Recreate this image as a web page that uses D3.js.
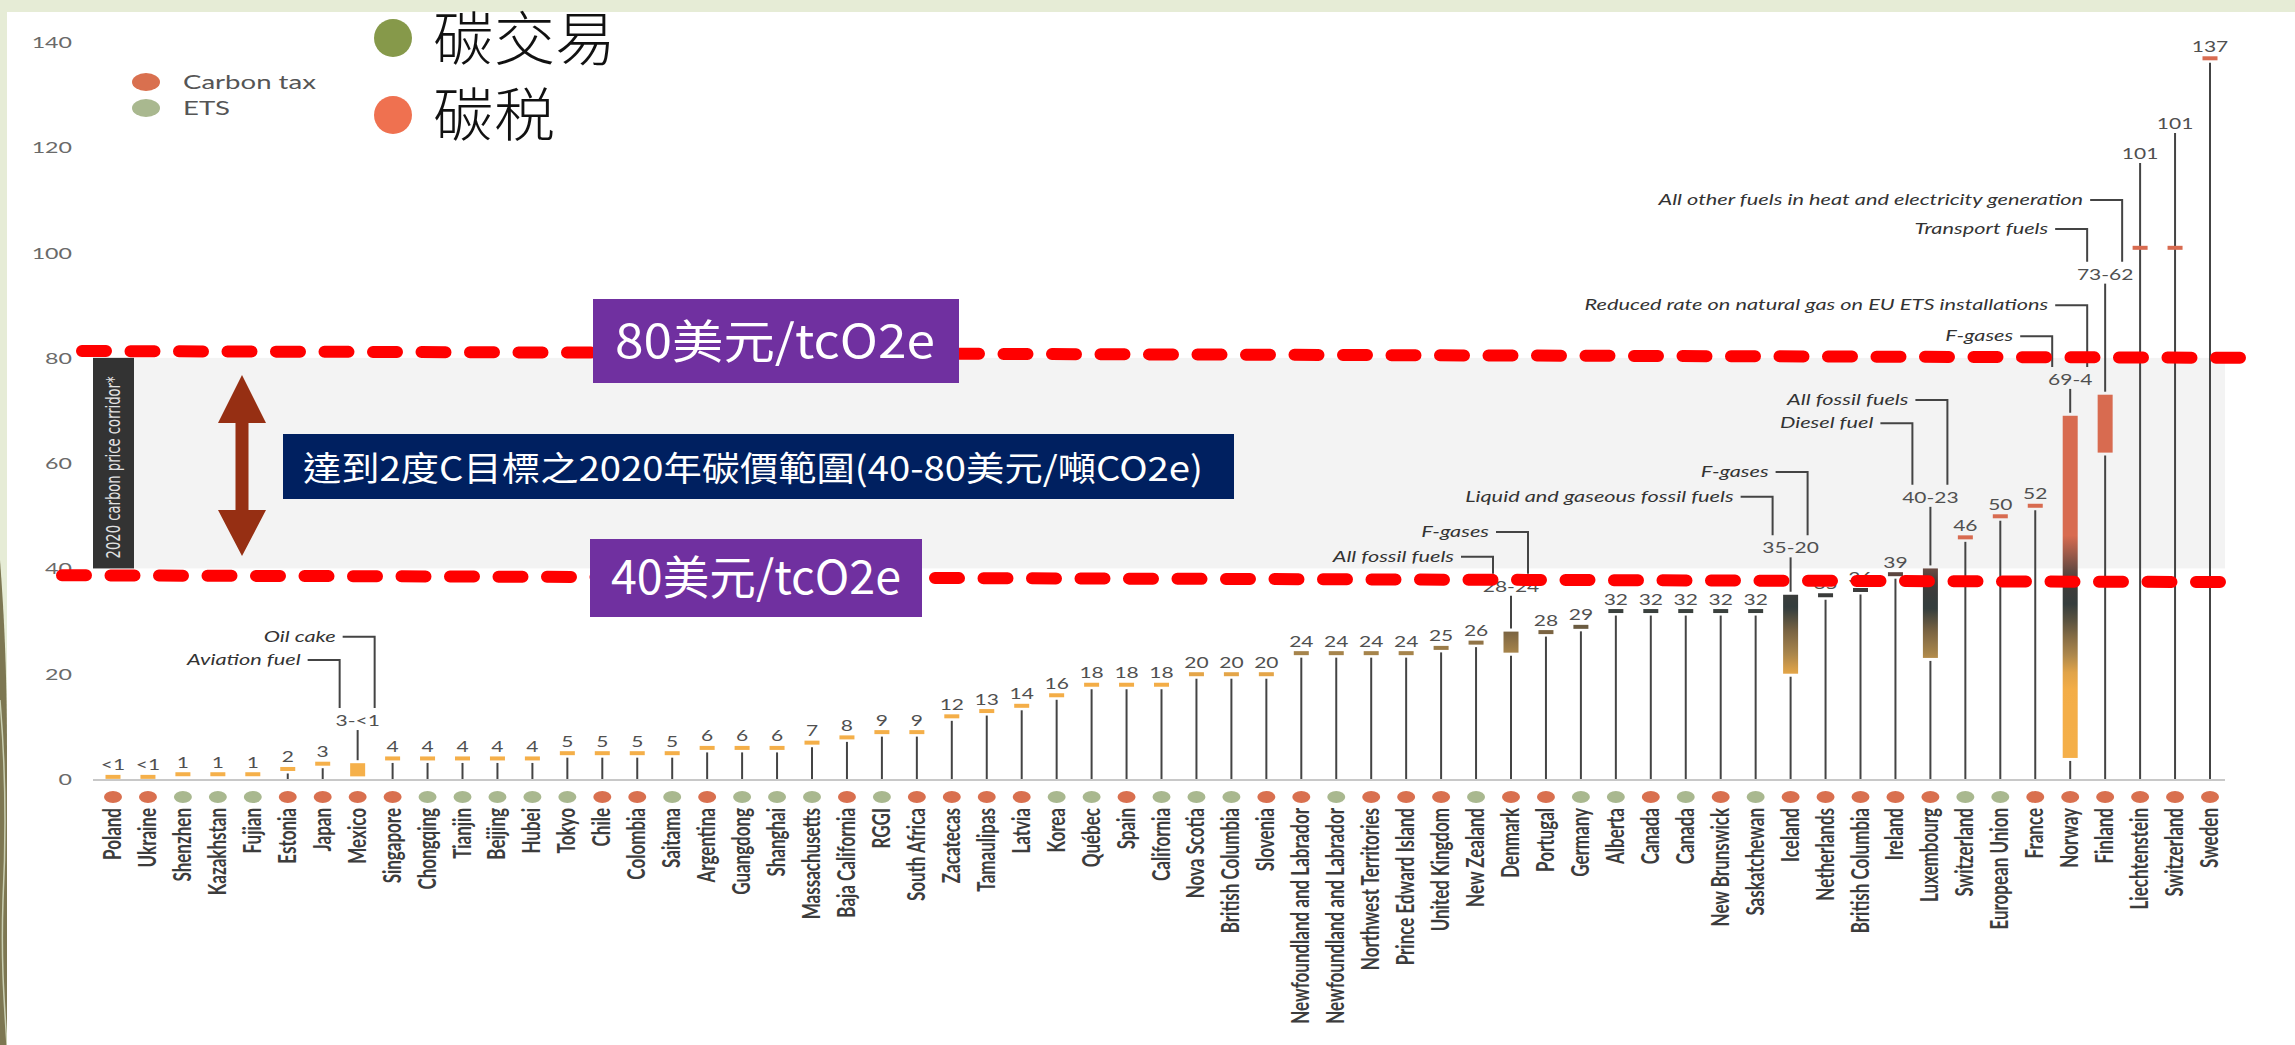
<!DOCTYPE html>
<html>
<head>
<meta charset="utf-8">
<script src="https://cdn.jsdelivr.net/npm/d3@7"></script>
<style>
  html, body { margin: 0; padding: 0; background: #e6ecd6; }
  svg { display: block; }
</style>
</head>
<body>
<svg id="chart" width="2295" height="1045"></svg>
<script>
// ---- data ----
const places = ['Poland', 'Ukraine', 'Shenzhen', 'Kazakhstan', 'Fujian', 'Estonia', 'Japan', 'Mexico',
  'Singapore', 'Chongqing', 'Tianjin', 'Beijing', 'Hubei', 'Tokyo', 'Chile', 'Colombia', 'Saitama',
  'Argentina', 'Guangdong', 'Shanghai', 'Massachusetts', 'Baja California', 'RGGI', 'South Africa',
  'Zacatecas', 'Tamaulipas', 'Latvia', 'Korea', 'Québec', 'Spain', 'California', 'Nova Scotia',
  'British Columbia', 'Slovenia', 'Newfoundland and Labrador', 'Newfoundland and Labrador',
  'Northwest Territories', 'Prince Edward Island', 'United Kingdom', 'New Zealand', 'Denmark',
  'Portugal', 'Germany', 'Alberta', 'Canada', 'Canada', 'New Brunswick', 'Saskatchewan', 'Iceland',
  'Netherlands', 'British Columbia', 'Ireland', 'Luxembourg', 'Switzerland', 'European Union',
  'France', 'Norway', 'Finland', 'Liechtenstein', 'Switzerland', 'Sweden'];

const scheme = ['tax', 'tax', 'ets', 'ets', 'ets', 'tax', 'tax', 'tax',
  'tax', 'ets', 'ets', 'ets', 'ets', 'ets', 'tax', 'tax', 'ets',
  'tax', 'ets', 'ets', 'ets', 'tax', 'ets', 'tax',
  'tax', 'tax', 'tax', 'ets', 'ets', 'tax', 'ets', 'ets',
  'ets', 'tax', 'tax', 'ets',
  'tax', 'tax', 'tax', 'ets', 'tax',
  'tax', 'ets', 'ets', 'tax', 'ets', 'tax', 'ets', 'tax',
  'tax', 'tax', 'tax', 'tax', 'ets', 'ets',
  'tax', 'tax', 'tax', 'tax', 'tax', 'tax'];

// "<1" drawn at 0.5
const priceHigh = [0.5, 0.5, 1, 1, 1, 2, 3, 3,
  4, 4, 4, 4, 4, 5, 5, 5, 5,
  6, 6, 6, 7, 8, 9, 9,
  12, 13, 14, 16, 18, 18, 18, 20,
  20, 20, 24, 24,
  24, 24, 25, 26, 28,
  28, 29, 32, 32, 32, 32, 32, 35,
  35, 36, 39, 40, 46, 50,
  52, 69, 73, 101, 101, 137];

const priceLow = [null, null, null, null, null, null, null, 0.5,
  null, null, null, null, null, null, null, null, null,
  null, null, null, null, null, null, null,
  null, null, null, null, null, null, null, null,
  null, null, null, null,
  null, null, null, null, 24,
  null, null, null, null, null, null, null, 20,
  null, null, null, 23, null, null,
  null, 4, 62, null, null, null];

const yTicks = [0, 20, 40, 60, 80, 100, 120, 140];

// notes on the ranged prices, lower note first
const noteText = [
  ['Aviation fuel', 'Oil cake'],
  ['All fossil fuels', 'F-gases'],
  ['Liquid and gaseous fossil fuels', 'F-gases'],
  ['Diesel fuel', 'All fossil fuels'],
  ['F-gases', 'Reduced rate on natural gas on EU ETS installations'],
  ['Transport fuels', 'All other fuels in heat and electricity generation']
];

// ---- layout ----
const rangeLabelAt = [11.2, 36.7, 44, 53.6, 76, 96];          // label centre, in $ units
const noteLevel = [[22.6, 27], [42.2, 46.9], [53.6, 58.3], [67.6, 72], [84.1, 90], [104.5, 110]];
const liftedLabelAt = {58: 118.9, 59: 124.6};
const FONT = 'Lato, "Noto Sans", sans-serif';
const CJK = '"Noto Sans CJK TC", "Noto Sans CJK SC", sans-serif';

const svg = d3.select('#chart');
const x = d3.scalePoint().domain(d3.range(places.length)).range([113, 2210]);
const y = d3.scaleLinear().domain([0, 140]).range([779, 42]);

const dotColor = {tax: '#d9704f', ets: '#a9b88f'};
const priceColor = d3.scaleLinear()
  .domain([0, 19, 24, 28, 32.5, 37, 41, 46, 140])
  .range(['#f5b04a', '#f3ad47', '#a6844b', '#7b6442', '#333d3d', '#3f3c3a', '#7a5046', '#d86b50', '#d86b50'])
  .interpolate(d3.interpolateRgb);

// stretched text, the source picture is wider than tall
function stretched (g, tx, ty, sx, txt) {
  return g.append('text')
    .attr('transform', 'translate(' + tx + ',' + ty + ') scale(' + sx + ',1)')
    .text(txt);
}

// ---- slide background ----
svg.append('rect').attr('width', 2295).attr('height', 1045).attr('fill', '#e6ecd6');
svg.append('path')
  .attr('d', 'M0,560 C6,640 7,700 7,760 L7,1045 L0,1045 Z')
  .attr('fill', '#7d7752');
svg.append('path')
  .attr('d', 'M0,700 C5,760 7,820 3,900 C1,960 4,1000 7,1045')
  .attr('fill', 'none').attr('stroke', '#c9cfb2').attr('stroke-width', 1.5);
svg.append('rect').attr('x', 7).attr('y', 12).attr('width', 2288).attr('height', 1033).attr('fill', '#ffffff');

// ---- corridor band ----
svg.append('rect')
  .attr('x', 93).attr('y', y(80))
  .attr('width', 2225 - 93).attr('height', y(40) - y(80))
  .attr('fill', '#f3f3f3');
svg.append('rect')
  .attr('x', 93).attr('y', y(80))
  .attr('width', 41).attr('height', y(40) - y(80))
  .attr('fill', '#333333');
svg.append('text')
  .attr('transform', 'translate(120,' + (y(40) - 10) + ') rotate(-90)')
  .attr('font-family', '"Liberation Sans Narrow", "DejaVu Sans Condensed", sans-serif')
  .attr('font-size', 20)
  .attr('fill', '#e2e2e2')
  .attr('textLength', 182)
  .attr('lengthAdjust', 'spacingAndGlyphs')
  .text('2020 carbon price corridor*');

// ---- y axis labels ----
const axisG = svg.append('g')
  .attr('font-family', FONT).attr('font-size', 16).attr('fill', '#6a6a6a')
  .attr('text-anchor', 'end');
yTicks.forEach(t => stretched(axisG, 72, y(t) + 6, 1.45, t));

// ---- baseline ----
svg.append('line')
  .attr('x1', 93).attr('x2', 2225)
  .attr('y1', y(0) + 1).attr('y2', y(0) + 1)
  .attr('stroke', '#c8c8c8').attr('stroke-width', 2);

// ---- in-chart legend ----
const legG = svg.append('g').attr('font-family', FONT).attr('font-size', 19).attr('fill', '#555');
[['tax', 'Carbon tax'], ['ets', 'ETS']].forEach((d, k) => {
  legG.append('ellipse').attr('cx', 146).attr('cy', 82 + k * 26).attr('rx', 14).attr('ry', 9)
    .attr('fill', dotColor[d[0]]);
  stretched(legG, 183, 89 + k * 26, 1.45, d[1]);
});

// ---- stems, markers, boxes ----
const items = places.map((p, i) => ({i, p, kind: scheme[i], hi: priceHigh[i], lo: priceLow[i]}));
const ranged = items.filter(d => d.lo !== null);
const defs = svg.append('defs');
ranged.forEach(d => {
  const g = defs.append('linearGradient').attr('id', 'grad' + d.i)
    .attr('x1', 0).attr('y1', 1).attr('x2', 0).attr('y2', 0);
  d3.range(0, 1.0001, 0.05).forEach(t => {
    g.append('stop').attr('offset', t).attr('stop-color', priceColor(d.lo + t * (d.hi - d.lo)));
  });
});

const markG = svg.append('g');
const labelG = svg.append('g')
  .attr('font-family', FONT).attr('font-size', 15).attr('fill', '#505050')
  .attr('text-anchor', 'middle');

items.forEach(d => {
  const cx = x(d.i);
  const stem = (y1, y2) => {
    if (y1 - y2 > 2) {
      markG.append('line').attr('x1', cx).attr('x2', cx).attr('y1', y1).attr('y2', y2)
        .attr('stroke', '#444').attr('stroke-width', 2);
    }
  };
  if (d.lo === null) {
    const lift = liftedLabelAt[d.i];
    if (lift !== undefined) {
      stem(y(0), y(lift) + 10);
      stretched(labelG, cx, y(lift) + 6, 1.4, d.hi);
    } else {
      stem(y(0), y(d.hi) + 5);
      stretched(labelG, cx, y(d.hi) - 6, 1.4, d.hi < 1 ? '<1' : d.hi);
    }
    markG.append('rect')
      .attr('x', cx - 7.5).attr('y', y(d.hi) - 1.5)
      .attr('width', 15).attr('height', 4)
      .attr('fill', priceColor(d.hi));
  } else {
    const r = ranged.indexOf(d);
    const lab = rangeLabelAt[r];
    stem(y(0), y(d.lo) + 3);
    stem(y(d.hi) - 3, y(lab) + 10);
    markG.append('rect')
      .attr('x', cx - 7.5).attr('y', y(d.hi))
      .attr('width', 15).attr('height', y(d.lo) - y(d.hi))
      .attr('fill', 'url(#grad' + d.i + ')');
    stretched(labelG, cx, y(lab) + 6, 1.4, d.hi + '-' + (d.lo < 1 ? '<1' : d.lo));

    // elbow notes
    const noteG = svg.append('g')
      .attr('font-family', FONT).attr('font-size', 15).attr('font-style', 'italic')
      .attr('fill', '#333').attr('text-anchor', 'end');
    [-18, 17].forEach((off, j) => {
      const legX = cx + off;
      const ny = y(noteLevel[r][j]);
      noteG.append('path')
        .attr('d', d3.line()([[legX - 32, ny], [legX, ny], [legX, y(lab) - 12]]))
        .attr('fill', 'none').attr('stroke', '#444').attr('stroke-width', 2);
      stretched(noteG, legX - 39, ny + 5, 1.45, noteText[r][j]);
    });
  }
});

// ---- category dots and names ----
const catG = svg.append('g');
catG.selectAll('ellipse').data(items).join('ellipse')
  .attr('cx', d => x(d.i)).attr('cy', 797)
  .attr('rx', 9).attr('ry', 6)
  .attr('fill', d => dotColor[d.kind]);
catG.selectAll('text').data(items).join('text')
  .attr('transform', d => 'translate(' + (x(d.i) + 8) + ',808) scale(1.4,1) rotate(-90)')
  .attr('font-family', FONT).attr('font-size', 17).attr('font-weight', 700)
  .attr('fill', '#3c3c3c').attr('text-anchor', 'end')
  .text(d => d.p);

// ---- double arrow and navy note ----
const ax = 242;
svg.append('path')
  .attr('d', d3.line()([
    [ax, 375], [ax + 24, 423], [ax + 6.5, 423], [ax + 6.5, 510], [ax + 24, 510], [ax, 556],
    [ax - 24, 510], [ax - 6.5, 510], [ax - 6.5, 423], [ax - 24, 423]
  ]) + 'Z')
  .attr('fill', '#962f13');

svg.append('rect').attr('x', 283).attr('y', 434).attr('width', 951).attr('height', 65).attr('fill', '#002060');
svg.append('text')
  .attr('x', 753).attr('y', 481)
  .attr('font-family', CJK).attr('font-size', 34).attr('fill', '#ffffff')
  .attr('text-anchor', 'middle')
  .attr('textLength', 900).attr('lengthAdjust', 'spacingAndGlyphs')
  .text('達到2度C目標之2020年碳價範圍(40-80美元/噸CO2e)');

// ---- red dashed price lines ----
const dashLine = (x1, v1, x2, v2) => svg.append('path')
  .attr('d', d3.line()([[x1, y(v1)], [x2, y(v2)]]))
  .attr('fill', 'none').attr('stroke', '#ff0000').attr('stroke-width', 12)
  .attr('stroke-linecap', 'round').attr('stroke-dasharray', '24 24.5');
dashLine(82, 81.3, 2250, 80.0);
dashLine(62, 38.7, 2228, 37.4);

// ---- purple price boxes ----
[[593, 299, 366, 84, 775, 358, 320, '80美元/tcO2e'],
 [590, 539, 332, 78, 756, 594, 290, '40美元/tcO2e']].forEach(b => {
  svg.append('rect').attr('x', b[0]).attr('y', b[1]).attr('width', b[2]).attr('height', b[3])
    .attr('fill', '#7030a0');
  svg.append('text').attr('x', b[4]).attr('y', b[5])
    .attr('font-family', CJK).attr('font-size', 46).attr('fill', '#ffffff')
    .attr('text-anchor', 'middle')
    .attr('textLength', b[6]).attr('lengthAdjust', 'spacingAndGlyphs')
    .text(b[7]);
});

// ---- big legend ----
const bigG = svg.append('g').attr('font-family', CJK).attr('font-size', 58).attr('font-weight', 300);
[['#86994a', '碳交易', 38, 60], ['#ef7150', '碳税', 115, 136]].forEach(d => {
  bigG.append('circle').attr('cx', 393).attr('cy', d[2]).attr('r', 19).attr('fill', d[0]);
  bigG.append('text').attr('x', 433).attr('y', d[3]).attr('fill', '#111')
    .attr('textLength', d[1].length * 61).attr('lengthAdjust', 'spacingAndGlyphs')
    .text(d[1]);
});
</script>
</body>
</html>
